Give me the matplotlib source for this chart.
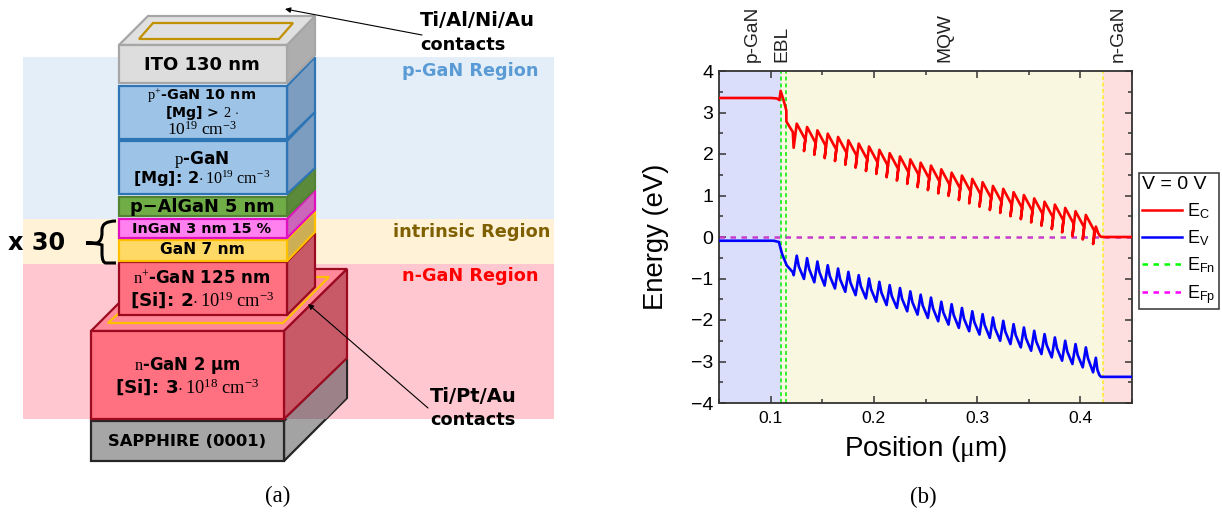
import matplotlib
matplotlib.use("Agg")
import matplotlib.pyplot as plt
from matplotlib.patches import Polygon, Rectangle, PathPatch
from matplotlib.path import Path
from matplotlib.lines import Line2D

plt.rcParams['font.family'] = ['Liberation Sans', 'DejaVu Sans']
plt.rcParams['mathtext.fontset'] = 'custom'
plt.rcParams['mathtext.rm'] = 'Liberation Serif'
plt.rcParams['mathtext.sf'] = 'Liberation Sans'
plt.rcParams['mathtext.it'] = 'Liberation Serif:italic'
plt.rcParams['mathtext.bf'] = 'Liberation Serif:bold'

# ---- band diagram data (position in um, energy in eV) ----
well_x = [0.1223, 0.1323, 0.1423, 0.1523, 0.1623, 0.1723, 0.1823, 0.1923, 0.2023, 0.2123,
          0.2223, 0.2323, 0.2423, 0.2523, 0.2623, 0.2723, 0.2823, 0.2923, 0.3023, 0.3123,
          0.3223, 0.3323, 0.3423, 0.3523, 0.3623, 0.3723, 0.3823, 0.3923, 0.4023, 0.4123]
peak_x = [0.1253, 0.1353, 0.1453, 0.1553, 0.1653, 0.1753, 0.1853, 0.1953, 0.2053, 0.2153,
          0.2253, 0.2353, 0.2453, 0.2553, 0.2653, 0.2753, 0.2853, 0.2953, 0.3053, 0.3153,
          0.3253, 0.3353, 0.3453, 0.3553, 0.3653, 0.3753, 0.3853, 0.3953, 0.4053, 0.4150]
ec_peak = [2.73, 2.65, 2.57, 2.49, 2.41, 2.33, 2.25, 2.18, 2.10, 2.02, 1.94, 1.87, 1.79, 1.72, 1.63,
           1.55, 1.48, 1.40, 1.32, 1.23, 1.16, 1.08, 1.01, .93, .85, .78, .70, .62, .53, .25]
ec_trough = [2.15, 2.07, 1.98, 1.90, 1.83, 1.74, 1.67, 1.59, 1.52, 1.44, 1.36, 1.28, 1.20, 1.13, 1.05,
             .99, .89, .81, .73, .65, .58, .50, .43, .35, .27, .19, .11, .02, -.06, -.17]
ec_shoulder = [2.53, 2.35, 2.27, 2.19, 2.11, 2.03, 1.95, 1.87, 1.80, 1.72, 1.64, 1.56, 1.49, 1.41, 1.34,
               1.25, 1.17, 1.10, 1.02, .94, .85, .78, .70, .63, .55, .47, .40, .32, .24, .15]
ev_peak = [-.45, -.51, -.59, -.68, -.76, -.84, -.92, -1.00, -1.08, -1.16, -1.23, -1.31, -1.39, -1.46, -1.56,
           -1.62, -1.71, -1.79, -1.86, -1.94, -2.02, -2.10, -2.18, -2.26, -2.34, -2.42, -2.50, -2.58, -2.66, -2.91]
ev_bottom = [-.92, -1.01, -1.09, -1.17, -1.24, -1.32, -1.40, -1.48, -1.56, -1.64, -1.71, -1.79, -1.87, -1.95, -2.03,
             -2.11, -2.19, -2.27, -2.35, -2.43, -2.50, -2.58, -2.66, -2.74, -2.82, -2.90, -2.98, -3.06, -3.14, -3.26]
ev_shoulder = [-.71, -.77, -.85, -.94, -1.02, -1.10, -1.18, -1.26, -1.34, -1.42, -1.49, -1.57, -1.65, -1.72, -1.82,
               -1.88, -1.97, -2.05, -2.12, -2.20, -2.28, -2.36, -2.44, -2.52, -2.60, -2.68, -2.76, -2.84, -2.92]
ec_head_x = [0.05, 0.100, 0.106, 0.1085, 0.1097, 0.1125, 0.1152, 0.1153, 0.1215]
ec_head_y = [3.35, 3.35, 3.34, 3.30, 3.52, 3.30, 3.05, 2.78, 2.53]
ec_tail_x = [0.4175, 0.4195, 0.4215, 0.45]
ec_tail_y = [0.08, 0.01, 0.0, 0.0]
ev_head_x = [0.05, 0.103, 0.108, 0.111, 0.1155, 0.1215]
ev_head_y = [-0.09, -0.09, -0.12, -0.40, -0.68, -0.85]
ev_tail_x = [0.4165, 0.4185, 0.42, 0.45]
ev_tail_y = [-3.20, -3.33, -3.37, -3.37]
ef_x = [0.05, 0.45]
ef_y = [0.0, 0.0]
region_edges = [0.05, 0.110, 0.4219, 0.45]
ebl_edges = [0.110, 0.1152]
top_labels = ["p-GaN", "EBL", "MQW", "n-GaN"]
top_label_pos = [0.082, 0.111, 0.2689, 0.4364]

# build curves
ecx, ecy = list(ec_head_x), list(ec_head_y)
evx, evy = list(ev_head_x), list(ev_head_y)
for i in range(30):
    if i > 0:
        ecx += [well_x[i] + 0.0012]
        ecy += [ec_shoulder[i]]
    ecx += [well_x[i], peak_x[i]]
    ecy += [ec_trough[i], ec_peak[i]]
    evx += [well_x[i], peak_x[i]]
    evy += [ev_bottom[i], ev_peak[i]]
    if i < 29:
        evx += [peak_x[i] + 0.002]
        evy += [ev_shoulder[i]]
ecx += ec_tail_x
ecy += ec_tail_y
evx += ev_tail_x
evy += ev_tail_y

fig = plt.figure(figsize=(12.22, 5.15), dpi=100)
W, H = 1222, 515

# ---- left schematic, in a pixel-space axes ----
s = fig.add_axes([0, 0, 1, 1])
s.set_xlim(0, W)
s.set_ylim(H, 0)
s.axis('off')

def rect(x0, y0, x1, y1, fc, ec='none', lw=0, z=1):
    s.add_patch(Rectangle((x0, y0), x1 - x0, y1 - y0, fc=fc, ec=ec, lw=lw, zorder=z))

def poly(pts, fc, ec='none', lw=0, z=2, closed=True):
    s.add_patch(Polygon(pts, closed=closed, fc=fc, ec=ec, lw=lw, zorder=z, joinstyle='miter'))

rect(23, 57, 554, 219, '#E4EEF8')
rect(23, 219, 554, 264, '#FFF2D6')
rect(23, 264, 554, 419, '#FFC7CF')

L, R, B = 119, 287, 315
EW = 1.6
# sapphire
poly([(284, 421), (347, 359), (347, 398), (284, 461)], '#A3A3A3', '#262626', EW, z=2)
poly([(285.5, 419), (346, 360), (346, 398), (326, 419)], '#9C8288', z=2.1)
rect(91, 421, 284, 461, '#A6A6A6', '#262626', EW, z=3)
# n-GaN
poly([(91, 331), (153, 269), (347, 269), (284, 331)], '#FF8899', '#9C0A20', EW, z=3)
poly([(108, 323), (283, 323), (329, 277), (160, 277)], 'none', '#FFC000', EW, z=3.1)
poly([(284, 331), (347, 269), (347, 358), (284, 419)], '#C85A68', '#9C0A20', EW, z=3.2)
rect(91, 331, 284, 419, '#FF7080', '#9C0A20', EW, z=3.3)

layers = [
    (262, 315, 233, 287, '#FF7080', '#C85A68', '#9C0A20'),
    (240, 261, 211, 232, '#FFD966', '#CCAE55', '#FFC000'),
    (219, 238, 190, 210, '#FF80EE', '#CC66BB', '#E010C0'),
    (197, 216, 168, 189, '#70AD47', '#5A8A3A', '#548235'),
    (141, 194, 112, 168, '#9DC3E6', '#7C9DBF', '#2E75B6'),
    (86, 139, 57, 112, '#9DC3E6', '#7C9DBF', '#2E75B6'),
]
for k, (y0, y1, by0, by1, fc, sc, ec) in enumerate(layers):
    z = 4 + 0.1 * k
    poly([(R, y0), (B, by0), (B, by1), (R, y1)], sc, ec, EW, z=z)
    rect(L, y0, R, y1, fc, ec, EW, z=z + 0.05)
# ITO
poly([(R, 45), (B, 16), (B, 55), (R, 83)], '#AEAEAE', '#A6A6A6', EW, z=5)
poly([(L, 45), (148, 16), (B, 16), (R, 45)], '#E0E0E0', '#A6A6A6', EW, z=5)
rect(L, 45, R, 83, '#DDDDDD', '#A6A6A6', EW, z=5.1)
poly([(139, 39), (153, 23), (293, 23), (279, 39)], 'none', '#C09000', 1.6, z=5.2)

bold = dict(family='DejaVu Sans', weight='bold', color='black', zorder=8)
def t(x, y, txt, size, ha='center', **kw):
    d = dict(bold)
    d.update(kw)
    s.text(x, y, txt, fontsize=size, ha=ha, va='center', **d)

t(202, 65, "ITO 130 nm", 13)
t(202, 96, r"$\mathrm{p}^{+}$-GaN 10 nm", 10.4)
t(202, 113.5, r"[Mg] > $\mathrm{2}\,\cdot$", 10.2)
t(202, 130, r"$\mathrm{10}^{19}\ \mathrm{cm}^{-3}$", 12.5)
t(202, 160, r"$\mathrm{p}$-GaN", 12.2)
t(202, 179, r"[Mg]: 2$\cdot\,\mathrm{10}^{19}\ \mathrm{cm}^{-3}$", 11.6)
t(202, 207, "p−AlGaN 5 nm", 12.8)
t(202, 229, "InGaN 3 nm 15 %", 10.4)
t(202, 250, "GaN 7 nm", 11.2)
t(202, 279, r"$\mathrm{n}^{+}$-GaN 125 nm", 12)
t(202, 300, r"[Si]: 2$\cdot\,\mathrm{10}^{19}\ \mathrm{cm}^{-3}$", 13.2)
t(187, 365, r"$\mathrm{n}$-GaN 2 μm", 11.9)
t(187, 387, r"[Si]: 3$\cdot\,\mathrm{10}^{18}\ \mathrm{cm}^{-3}$", 13.2)
t(187, 442, "SAPPHIRE (0001)", 11.8)

t(420, 21, "Ti/Al/Ni/Au", 14, ha='left')
t(420, 45, "contacts", 12.8, ha='left')
t(430, 397, "Ti/Pt/Au", 14, ha='left')
t(430, 420, "contacts", 12.8, ha='left')
t(539, 71, "p-GaN Region", 12.7, ha='right', color='#5B9BD5')
t(550, 232, "intrinsic Region", 12.8, ha='right', color='#7F6000')
t(539, 276, "n-GaN Region", 12.7, ha='right', color='#FF0000')
t(8, 243, "x 30", 17.3, ha='left')

s.annotate("", xy=(285, 9), xytext=(422, 35), zorder=9,
           arrowprops=dict(arrowstyle='-|>', color='black', lw=0.8, mutation_scale=8, shrinkA=0, shrinkB=0))
s.annotate("", xy=(308, 304), xytext=(428, 408), zorder=9,
           arrowprops=dict(arrowstyle='-|>', color='black', lw=0.8, mutation_scale=8, shrinkA=0, shrinkB=0))

brace = Path([(116, 221), (102, 221), (102, 230), (102, 233), (102, 241), (97, 243), (86, 243),
              (97, 243), (102, 245), (102, 253), (102, 263), (106, 263), (116, 263)],
             [Path.MOVETO, Path.CURVE3, Path.CURVE3, Path.LINETO, Path.CURVE3, Path.CURVE3, Path.LINETO,
              Path.CURVE3, Path.CURVE3, Path.LINETO, Path.CURVE3, Path.CURVE3, Path.LINETO])
s.add_patch(PathPatch(brace, fc='none', ec='black', lw=2.2, zorder=8))

s.text(278, 496, "(a)", fontsize=16.5, family='Liberation Serif', ha='center', va='center')
s.text(923, 497, "(b)", fontsize=16.5, family='Liberation Serif', ha='center', va='center')

# ---- right band diagram ----
ax = fig.add_axes([719 / W, 1 - 403 / H, (1132 - 719) / W, (403 - 71) / H])
ax.set_xlim(0.05, 0.45)
ax.set_ylim(-4, 4)
ax.axvspan(region_edges[0], region_edges[1], color='#DADEFA', lw=0, zorder=0)
ax.axvspan(region_edges[1], region_edges[2], color='#FAF7E0', lw=0, zorder=0)
ax.axvspan(region_edges[2], region_edges[3], color='#FDDFE0', lw=0, zorder=0)
for xv in ebl_edges:
    ax.axvline(xv, color='#22EE22', lw=1.3, ls=(0, (2.2, 1.6)), zorder=1)
ax.axvline(region_edges[2], color='#FFE830', lw=1.2, ls=(0, (2.2, 1.6)), zorder=1)

dash = (0, (2.2, 2.2))
ax.plot(ef_x, ef_y, color='#C83CCB', lw=1.8, ls=dash, zorder=2.1)
ax.plot(ecx, ecy, color='#FF0000', lw=1.9, solid_joinstyle='round', zorder=3)
ax.plot(evx, evy, color='#0000FF', lw=1.9, solid_joinstyle='round', zorder=3)

ax.set_xticks([0.1, 0.2, 0.3, 0.4])
ax.set_xticks([0.05, 0.15, 0.25, 0.35, 0.45], minor=True)
ax.set_yticks(range(-4, 5))
ax.set_yticks([-3.5, -2.5, -1.5, -0.5, 0.5, 1.5, 2.5, 3.5], minor=True)
ax.set_xticklabels(["0.1", "0.2", "0.3", "0.4"])
ax.tick_params(which='major', direction='in', top=True, right=True, length=5, width=1.1,
               color='#333333', pad=5)
ax.tick_params(axis='x', which='major', labelsize=12.6, pad=5.5)
ax.tick_params(axis='y', which='major', labelsize=14, pad=4)
ax.tick_params(which='minor', direction='in', top=True, right=True, length=2.8, width=1.1, color='#333333')
for sp in ax.spines.values():
    sp.set_linewidth(1.3)
    sp.set_color('#333333')
ax.set_xlabel(r"Position ($\mathrm{\mu}$m)", fontsize=20, labelpad=6)
ax.set_ylabel("Energy (eV)", fontsize=19.8, labelpad=16)

for lab, xv in zip(top_labels, top_label_pos):
    ax.text(xv, 1.027, lab, transform=ax.get_xaxis_transform(), rotation=90,
            ha='center', va='bottom', fontsize=13.8, color='#222222')

handles = [Line2D([], [], color='#FF0000', lw=1.8),
           Line2D([], [], color='#0000FF', lw=1.8),
           Line2D([], [], color='#00FF00', lw=1.8, ls=dash),
           Line2D([], [], color='#FF00FF', lw=1.8, ls=dash)]
labels = [r"E$_{\mathsf{C}}$", r"E$_{\mathsf{V}}$", r"E$_{\mathsf{Fn}}$", r"E$_{\mathsf{Fp}}$"]
leg = fig.legend(handles, labels, title="V = 0 V", loc='upper left',
                 bbox_to_anchor=(1139 / W, 1 - 173 / H), borderaxespad=0,
                 fontsize=13, title_fontsize=14, handlelength=2.2, handletextpad=0.3,
                 labelspacing=0.42, borderpad=0.18, fancybox=False, framealpha=1,
                 edgecolor='#333333', alignment='left')
leg.get_frame().set_linewidth(1.1)

fig.savefig("out.png", dpi=100)
